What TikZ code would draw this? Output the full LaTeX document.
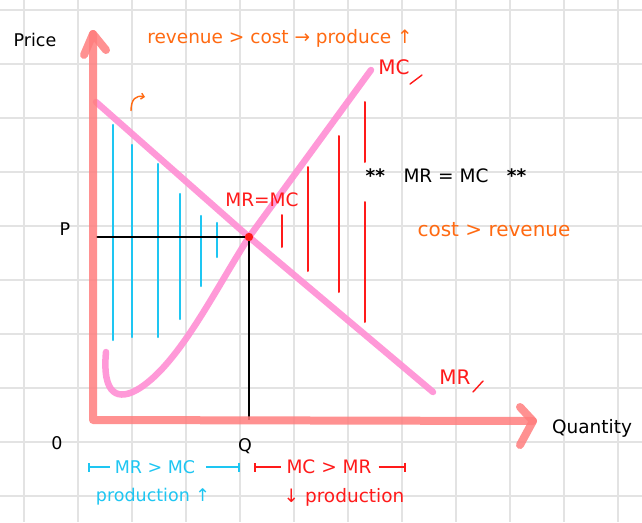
\documentclass[tikz,border=0pt]{standalone}
\usepackage{fontspec}
\setmainfont{DejaVu Sans}
\usetikzlibrary{arrows.meta}
\definecolor{gridgray}{HTML}{E3E3E3}
\definecolor{axissalmon}{HTML}{FF7E7E}
\definecolor{curvepink}{HTML}{FF8FD4}
\definecolor{costred}{HTML}{FF1A1A}
\definecolor{gainblue}{HTML}{1EC6F2}
\definecolor{noteorange}{HTML}{FF6A12}
\tikzset{
  axis/.style={line width=8pt,draw=axissalmon,opacity=0.85,line cap=round,line join=round},
  curve/.style={line width=6.5pt,draw=curvepink,opacity=0.9,line cap=round},
  bluebar/.style={line width=2.2pt,draw=gainblue,line cap=round},
  redbar/.style={line width=2pt,draw=costred,line cap=round},
  lbl/.style={font=\fontsize{17.5}{19}\selectfont,inner sep=1pt},
  big/.style={font=\fontsize{18.5}{20}\selectfont,inner sep=1pt},
}
\begin{document}
\begin{tikzpicture}[x=1pt,y=-1pt]
\useasboundingbox (0,0) rectangle (642,522);
\fill[white] (0,0) rectangle (642,522);
% grid
\foreach \gx in {24,78,...,618} \draw[gridgray,line width=1.8pt] (\gx,0) -- (\gx,522);
\foreach \gy in {10,64,...,496} \draw[gridgray,line width=1.8pt] (0,\gy) -- (642,\gy);

% profit / loss bars
\foreach \bx/\btop/\bbot in {113/125/340,132/145/337,158/164/337,180/194/319,201/216/286,217/223/257}
  \draw[bluebar] (\bx,\btop) -- (\bx,\bbot);
\foreach \rx/\rtop/\rbot in {282/215/247,308/167/271,339/136/292,365/102/162,365/202/322}
  \draw[redbar] (\rx,\rtop) -- (\rx,\rbot);

% curves
\coordinate (eq) at (249,237);
\draw[curve] (96,102) -- (eq) -- (433,392);
\draw[curve] (106,352) .. controls (102,395) and (118,402) .. (140,388)
  .. controls (180,362) and (215,290) .. (eq) -- (371,70);

% P and Q guides
\coordinate (pAxis) at (96,237);
\coordinate (qAxis) at (249,420);
\draw[black,line width=1.6pt] (pAxis) -- (eq) -- (qAxis);
\fill[costred] (eq) circle (4.2);

% axes
\coordinate (origin) at (93,420);
\coordinate (yTip) at (93,34);
\coordinate (xTip) at (533,421);
\draw[axis] (yTip) -- (origin) -- (xTip);
\draw[axis] (84,55) -- (yTip) -- (106,50);
\draw[axis] (520,407) -- (xTip) -- (520,445);

% labels
\node[lbl] (price) at (35,40) {Price};
\node[big] (qty) at (592,428) {Quantity};
\node[lbl] (pLbl) at (65,229) {P};
\node[lbl] (zero) at (57,443) {0};
\node[lbl] (qLbl) at (245,446) {Q};
\node[big,text=noteorange] (revgt) at (280,38) {revenue > cost → produce ↑};
\node[big,text=noteorange,font=\fontsize{20}{22}\selectfont] (costgt) at (494,230) {cost > revenue};
\node[big] (rule) at (446,176) {\textbf{**}\quad MR = MC\quad \textbf{**}};
\node[big,text=costred] (eqLbl) at (262,200) {MR=MC};
\node[big,text=costred,font=\fontsize{20}{22}\selectfont] (mcLbl) at (394,67) {MC};
\draw[costred,line width=1.4pt,line cap=round] (410,84) -- (422,75);
\node[big,text=costred,font=\fontsize{20}{22}\selectfont] (mrLbl) at (455,377) {MR};
\draw[costred,line width=1.4pt,line cap=round] (473,392) -- (483,381);
\draw[noteorange,line width=1.4pt,-{Straight Barb[length=3pt]}] (131,111) .. controls (131,99) and (136,95) .. (145,97);

% bottom notes
\node[lbl,text=gainblue] (mrgt) at (155,467) {MR > MC};
\node[lbl,text=gainblue] (prodUp) at (153,497) {production ↑};
\node[big,text=costred] (mcgt) at (329,467) {MC > MR};
\node[big,text=costred] (prodDown) at (344,497) {↓ production};
\coordinate (blueL) at (88,467);
\coordinate (blueR) at (240,467);
\coordinate (redL) at (254,467);
\coordinate (redR) at (406,467);
\draw[gainblue,line width=1.6pt,{Bar[width=9pt]}-] (blueL) -- ([xshift=-4pt]mrgt.west);
\draw[gainblue,line width=1.6pt,-{Bar[width=9pt]}] ([xshift=10pt]mrgt.east) -- (blueR);
\draw[costred,line width=1.6pt,{Bar[width=9pt]}-] (redL) -- ([xshift=-4pt]mcgt.west);
\draw[costred,line width=1.6pt,-{Bar[width=9pt]}] ([xshift=6pt]mcgt.east) -- (redR);
\end{tikzpicture}
\end{document}
